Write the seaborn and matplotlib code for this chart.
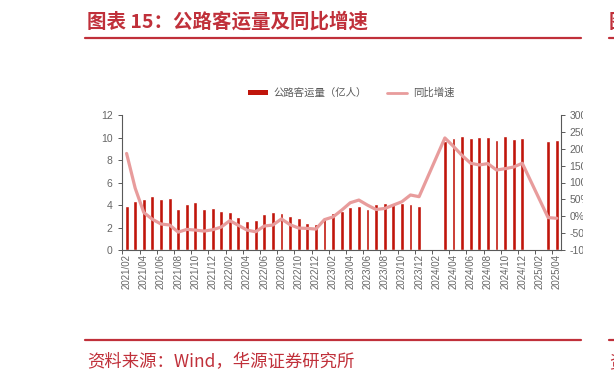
import numpy as np
import pandas as pd
import matplotlib
matplotlib.use("Agg")
import matplotlib.pyplot as plt
import seaborn as sns
from matplotlib.lines import Line2D
from matplotlib.patches import Patch
from matplotlib.transforms import Bbox, TransformedBbox

# ---------------- data ----------------
all_months = [f"{y}/{m:02d}" for y in range(2021, 2026) for m in range(1, 13)]
months = all_months[1:52]          # 2021/02 ... 2025/04

nan = np.nan
volume = [3.92, 4.39, 4.56, 4.83, 4.50, 4.59, 3.64, 4.06, 4.27, 3.64, 3.73,
          3.44, 3.35, 2.96, 2.58, 2.67, 3.20, 3.41, 3.26, 3.05, 2.81, 2.43, 2.34,
          2.96, 3.26, 3.45, 3.85, 3.91, 3.64, 4.12, 4.18, 4.06, 4.18, 4.06, 3.91,
          nan, nan, 9.70, 10.00, 10.13, 9.93, 10.01, 10.05, 9.78, 10.13, 9.87, 9.93,
          nan, nan, 9.69, 9.78]
yoy = [186, 83, 11, -9, -23, -26, -47, -39, -41, -44, -40,
       -32, -13, -27, -41, -46, -29, -26, -8, -25, -35, -36, -38,
       -10, -2, 18, 40, 48, 33, 20, 23, 33, 43, 63, 58,
       nan, nan, 232, 207, 180, 157, 152, 156, 137, 141, 146, 157,
       nan, nan, -4, -6]

bar_label = "公路客运量（亿人）"
line_label = "同比增速"
title = "图表 15：公路客运量及同比增速"
source = "资料来源：Wind，华源证券研究所"
left_ticks = [0, 2, 4, 6, 8, 10, 12]
right_ticks = [-100, -50, 0, 50, 100, 150, 200, 250, 300]

df = pd.DataFrame({"pos": np.arange(len(months)), "month": months,
                   "volume": volume, "yoy": yoy})

# ---------------- style ----------------
sns.set_theme(style="white")
plt.rcParams["font.family"] = ["Liberation Sans", "Noto Sans CJK SC", "DejaVu Sans"]

BAR = "#C0150B"
LINE = "#E89C9C"
RED = "#C0303A"
GRAY = "#666666"
SPINE = "#595959"

fig = plt.figure(figsize=(6.14, 3.77), dpi=100)
ax = fig.add_axes([122.3 / 614, 1 - 250 / 377, (561 - 122.3) / 614, 135 / 377])

sns.barplot(data=df.dropna(subset=["volume"]), x="pos", y="volume",
            native_scale=True, color=BAR, saturation=1, width=0.45,
            errorbar=None, ax=ax)
ax2 = ax.twinx()
sns.lineplot(data=df.dropna(subset=["yoy"]), x="pos", y="yoy", color=LINE,
             lw=2.3, ax=ax2, legend=False, solid_joinstyle="round",
             solid_capstyle="round")

ax.set_xlim(-0.5, len(months) - 0.5)
ax.set_ylim(0, 12)
ax2.set_ylim(-100, 300)

ax.set_xticks(np.arange(0, len(months), 2))
ax.set_xticklabels(months[::2], rotation=90, fontsize=7, color=GRAY)
ax.set_xticks(np.arange(-0.5, len(months) - 1, 2), minor=True)
ax.tick_params(axis="x", which="major", length=0, pad=3)
ax.tick_params(axis="x", which="minor", length=3, width=0.7, color=SPINE,
               direction="out", bottom=True)

ax.set_yticks(left_ticks)
ax.set_yticklabels([str(v) for v in left_ticks], fontsize=7.5, color=GRAY)
ax.tick_params(axis="y", length=3, width=0.7, color=SPINE, direction="out",
               left=True, pad=4)
ax2.set_yticks(right_ticks)
ax2.set_yticklabels([f"{v}%" for v in right_ticks], fontsize=7.5, color=GRAY)
ax2.tick_params(axis="y", length=3, width=0.7, color=SPINE, direction="out",
                right=True, pad=3)

for a in (ax, ax2):
    a.set_xlabel("")
    a.set_ylabel("")
    a.grid(False)
    a.spines["top"].set_visible(False)
    for s in ("left", "right", "bottom"):
        a.spines[s].set_color(SPINE)
        a.spines[s].set_linewidth(0.8)
ax.spines["right"].set_visible(False)
ax2.spines["left"].set_visible(False)
ax2.spines["bottom"].set_visible(False)

# legend
handles = [Patch(facecolor=BAR, edgecolor="none"),
           Line2D([], [], color=LINE, lw=2)]
fig.legend(handles, [bar_label, line_label], loc="center",
           bbox_to_anchor=(0.572, 1 - 93 / 377), ncol=2, frameon=False,
           fontsize=7.5, handlelength=1.9, handleheight=0.45,
           columnspacing=1.9, handletextpad=0.6, labelcolor="#595959")

# title / source frame
fig.text(87 / 614, 1 - 22 / 377, title, fontsize=14, color=RED,
         fontweight="bold", va="center", ha="left",
         family=["Noto Sans CJK SC", "DejaVu Sans"])
fig.add_artist(Line2D([85 / 614, 581 / 614], [1 - 38 / 377] * 2,
                      transform=fig.transFigure, color=RED, lw=1.6))
fig.add_artist(Line2D([85 / 614, 581 / 614], [1 - 340 / 377] * 2,
                      transform=fig.transFigure, color=RED, lw=1.6))
fig.text(87 / 614, 1 - 362 / 377, source, fontsize=12.5, color=RED,
         va="center", ha="left", family=["Noto Sans CJK SC", "DejaVu Sans"])

# neighbouring panel, cut at the edge
fig.add_artist(Line2D([609 / 614, 1.0], [1 - 38 / 377] * 2,
                      transform=fig.transFigure, color=RED, lw=1.6))
fig.add_artist(Line2D([609 / 614, 1.0], [1 - 340 / 377] * 2,
                      transform=fig.transFigure, color=RED, lw=1.6))
fig.text(609 / 614, 1 - 22 / 377, "图表 16", fontsize=14, color=RED,
         fontweight="bold", va="center", ha="left",
         family=["Noto Sans CJK SC", "DejaVu Sans"])
fig.text(609 / 614, 1 - 362 / 377, "资料来源", fontsize=12.5, color=RED,
         va="center", ha="left", family=["Noto Sans CJK SC", "DejaVu Sans"])

# right tick labels are cut off in the reference
fig.canvas.draw()
clip = TransformedBbox(Bbox.from_extents(0, 0, 583 / 614, 1), fig.transFigure)
for lab in ax2.yaxis.get_majorticklabels():
    lab.set_clip_on(True)
    lab.set_clip_box(clip)

fig.savefig("out.png", dpi=100)
